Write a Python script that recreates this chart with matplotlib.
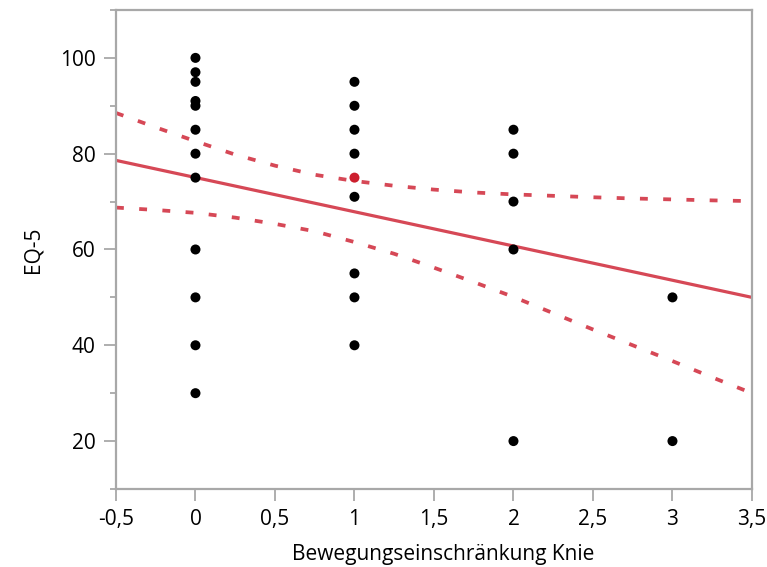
import matplotlib.pyplot as plt
from matplotlib.ticker import FuncFormatter, MultipleLocator

plt.rcParams['font.family'] = ['Open Sans', 'DejaVu Sans']

# Scatter data: Bewegungseinschränkung Knie vs. EQ-5
knie = [0, 0, 0, 0, 0, 0, 0, 0, 0, 0, 0, 0,
        1, 1, 1, 1, 1, 1, 1, 1,
        2, 2, 2, 2, 2,
        3, 3]
eq5 = [100, 97, 95, 91, 90, 85, 80, 75, 60, 50, 40, 30,
       95, 90, 85, 80, 71, 55, 50, 40,
       85, 80, 70, 60, 20,
       50, 20]

# highlighted point
hl_x = [1]
hl_y = [75]

# regression line
fit_x = [-0.5, 3.5]
fit_y = [78.6, 50.0]

# confidence band
band_x = [-0.5, -0.25, 0, 0.25, 0.5, 0.75, 1.0, 1.25, 1.5, 1.75,
          2.0, 2.25, 2.5, 2.75, 3.0, 3.25, 3.5]
band_upper = [88.5, 85.5, 82.6, 79.8, 77.5, 75.6, 74.3, 73.3, 72.5, 71.9,
              71.5, 71.2, 70.9, 70.65, 70.45, 70.25, 70.1]
band_lower = [68.75, 68.25, 67.65, 66.65, 65.35, 63.8, 61.55, 59.1, 56.2, 53.2,
              50.1, 46.7, 43.3, 40.0, 36.7, 33.3, 30.0]

red = '#d64856'
grey = '#a8a8a8'

fig = plt.figure(figsize=(7.67, 5.67), dpi=100)
ax = fig.add_axes([0.1512, 0.1376, 0.8292, 0.8448])

ax.plot(fit_x, fit_y, color=red, lw=2.3, zorder=2)
ax.plot(band_x, band_upper, color=red, lw=2.7, ls=(0, (2.1, 4.1)), zorder=2)
ax.plot(band_x, band_lower, color=red, lw=2.7, ls=(0, (2.1, 4.1)), zorder=2)

ax.scatter(knie, eq5, s=52, color='black', edgecolors='none', zorder=3)
ax.scatter(hl_x, hl_y, s=52, color='#cc1f2e', edgecolors='none', zorder=3)

ax.set_xlim(-0.5, 3.5)
ax.set_ylim(10, 110)
ax.xaxis.set_major_locator(MultipleLocator(0.5))
ax.yaxis.set_major_locator(MultipleLocator(20))
ax.yaxis.set_minor_locator(MultipleLocator(10))

fmt = FuncFormatter(lambda v, p: f'{v:g}'.replace('.', ','))
ax.xaxis.set_major_formatter(fmt)
ax.yaxis.set_major_formatter(fmt)

for s in ax.spines.values():
    s.set_color(grey)
    s.set_linewidth(1.6)

ax.tick_params(axis='both', which='major', length=8.5, width=1.3, color=grey,
               labelsize=15, pad=6)
ax.tick_params(axis='y', which='minor', length=4.5, width=1.3, color=grey)
ax.tick_params(axis='x', which='minor', length=0)

ax.set_xlabel('Bewegungseinschränkung Knie', fontsize=15)
ax.xaxis.set_label_coords(0.515, -0.115)
ax.set_ylabel('EQ-5', fontsize=15, labelpad=12)

plt.savefig('out.png', dpi=100)
